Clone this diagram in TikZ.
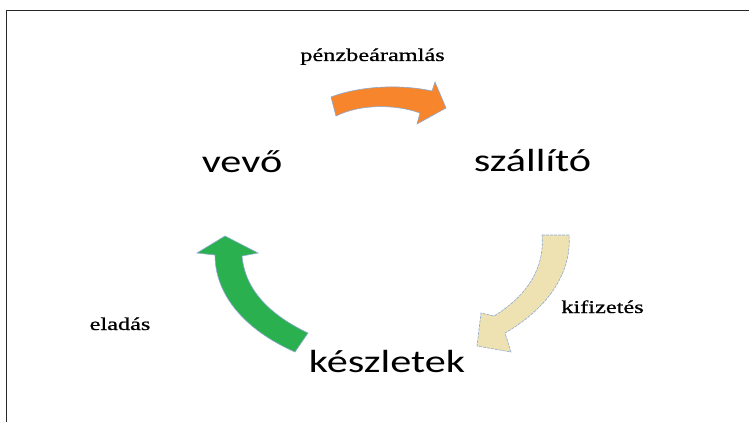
\documentclass[tikz,border=0pt]{standalone}
\usepackage{fontspec}
\newfontfamily\lblsans[FakeStretch=1.32]{Carlito}
\newfontfamily\lblserif[FakeStretch=1.35,FakeBold=0.8]{Liberation Serif}
\definecolor{arrorange}{RGB}{246,133,44}
\definecolor{arrtan}{RGB}{238,225,178}
\definecolor{arrgreen}{RGB}{42,176,78}
\definecolor{arredge}{RGB}{140,170,210}
\definecolor{framecol}{RGB}{40,40,40}
\tikzset{
  bigword/.style={font=\lblsans\fontsize{32}{36}\selectfont, anchor=base, inner sep=0pt, text=black},
  smallword/.style={font=\lblserif\fontsize{18}{20}\selectfont, anchor=base, inner sep=0pt, text=black},
  flowarrow/.style={draw=arredge, line width=0.6pt, line join=miter},
}
\begin{document}
\begin{tikzpicture}[x=1pt,y=-1pt]
\useasboundingbox (0,0) rectangle (749,422);
\fill[white] (0,0) rectangle (749,422);
% frame
\draw[framecol, line width=1.8pt] (6.5,422) -- (6.5,10.5) -- (749,10.5);

% labels
\node[smallword] (penz) at (372.5,61) {pénzbeáramlás};
\node[bigword] (vevo) at (242,173) {vevő};
\node[bigword] (szall) at (532.5,172) {szállító};
\node[bigword] (keszl) at (387,372) {készletek};
\node[smallword] (elad) at (120,330) {eladás};
\node[smallword] (kifiz) at (602.5,313) {kifizetés};

% orange arrow (vevő -> szállító)
\filldraw[flowarrow, fill=arrorange]
  (331,97) .. controls (360,86) and (400,84) .. (432,91)
  -- (435,82) -- (446,108) -- (417,124) -- (420,113)
  .. controls (395,104) and (360,104) .. (336,116) -- cycle;

% tan arrow (szállító -> készletek)
\filldraw[flowarrow, fill=arrtan, dash pattern=on 3pt off 1pt]
  (542,235) -- (569,235)
  .. controls (572,275) and (545,310) .. (505,333)
  -- (511,352) -- (477,346) -- (481,313) -- (494,316)
  .. controls (525,297) and (545,270) .. (542,235) -- cycle;

% green arrow (készletek -> vevő)
\filldraw[flowarrow, fill=arrgreen]
  (225,236) -- (258,253) -- (242,256)
  .. controls (245,290) and (270,315) .. (308,333)
  -- (295,352)
  .. controls (245,330) and (215,295) .. (215,255)
  -- (197,253) -- cycle;
\end{tikzpicture}
\end{document}
